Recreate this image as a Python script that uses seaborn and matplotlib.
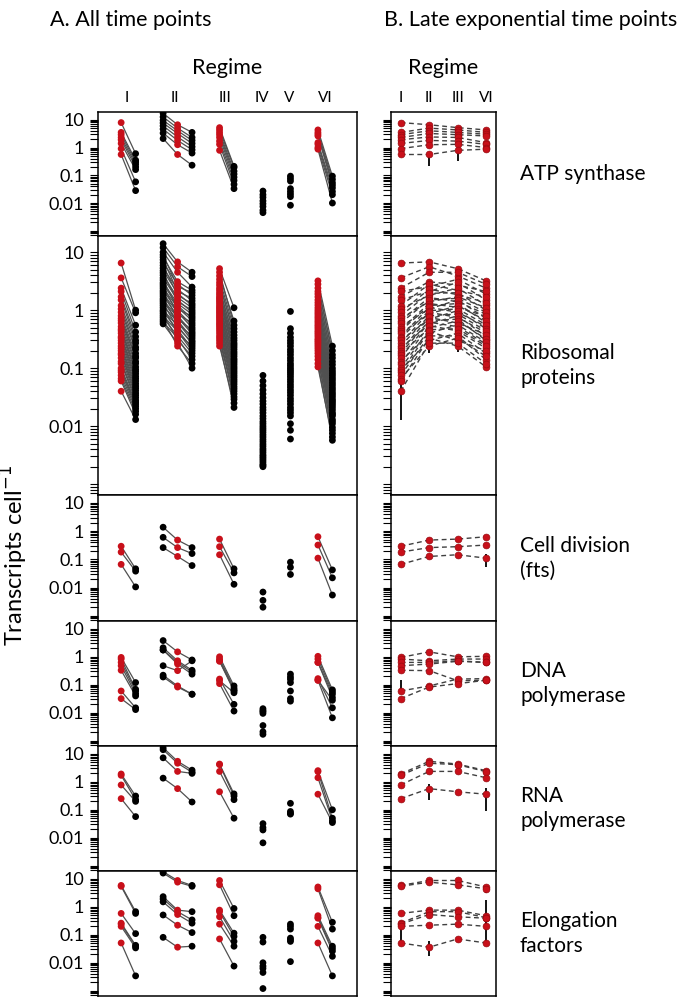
import numpy as np
import pandas as pd
import matplotlib
matplotlib.use("Agg")
import matplotlib.pyplot as plt
import seaborn as sns
from matplotlib.ticker import FixedLocator, FixedFormatter, LogLocator, NullFormatter

# %%
# columns of panel A, left to right. _r = late exponential (red), _b = other time points (black)
a_columns = ["I_r", "I_b", "II_b1", "II_r", "II_b2", "III_r", "III_b", "IV_b", "V_b", "VI_r", "VI_b"]
regimes_a = ["I", "II", "III", "IV", "V", "VI"]
regimes_b = ["I", "II", "III", "VI"]
group_labels = ["ATP synthase", "Ribosomal\nproteins", "Cell division\n(fts)",
                "DNA\npolymerase", "RNA\npolymerase", "Elongation\nfactors"]

# transcripts per cell, one list per column, genes in the same order in every column
atp = {
    "I_r":   [7.9, 3.5, 2.9, 2.3, 1.9, 1.4, 0.91, 0.56],
    "I_b":   [0.60, 0.35, 0.30, 0.25, 0.20, 0.16, 0.058, 0.028],
    "II_b1": [17, 12.6, 9.5, 7.6, 6.0, 4.6, 3.3, 2.1],
    "II_r":  [6.6, 5.0, 4.0, 3.2, 2.4, 1.8, 1.26, 0.56],
    "II_b2": [3.5, 2.3, 1.8, 1.4, 1.07, 0.83, 0.63, 0.23],
    "III_r": [5.2, 4.3, 3.5, 2.9, 2.3, 1.7, 1.3, 0.79],
    "III_b": [0.21, 0.19, 0.14, 0.11, 0.085, 0.065, 0.047, 0.033],
    "IV_b":  [0.027, 0.020, 0.016, 0.012, 0.0095, 0.0075, 0.0055, 0.0045],
    "V_b":   [0.093, 0.076, 0.062, 0.033, 0.026, 0.021, 0.017, 0.0083],
    "VI_r":  [4.3, 3.5, 3.0, 2.6, 1.5, 1.3, 1.0, 0.87],
    "VI_b":  [0.093, 0.071, 0.054, 0.044, 0.035, 0.026, 0.020, 0.010],
}

ribo = {
    "I_r":   [6.5, 3.6, 2.4, 2.1, 1.7, 1.5, 1.2, 1.05, 0.92, 0.80, 0.72, 0.66, 0.60, 0.52, 0.47, 0.44, 0.40, 0.35,
              0.33, 0.30, 0.27, 0.24, 0.22, 0.20, 0.18, 0.17, 0.15, 0.13, 0.12, 0.10, 0.092, 0.085, 0.075, 0.066, 0.060, 0.040],
    "I_b":   [1.0, 0.9, 0.55, 0.42, 0.35, 0.30, 0.27, 0.23, 0.21, 0.18, 0.16, 0.15, 0.13, 0.12, 0.105, 0.095, 0.088, 0.080,
              0.072, 0.066, 0.060, 0.054, 0.049, 0.045, 0.041, 0.037, 0.034, 0.031, 0.028, 0.026, 0.024, 0.022, 0.020, 0.018, 0.016, 0.013],
    "II_b1": [14, 12, 10, 9.0, 8.2, 7.4, 6.6, 5.9, 5.3, 4.8, 4.4, 4.0, 3.6, 3.3, 3.0, 2.8, 2.6, 2.4,
              2.2, 2.05, 1.9, 1.75, 1.6, 1.5, 1.4, 1.3, 1.2, 1.1, 1.0, 0.94, 0.87, 0.80, 0.74, 0.68, 0.63, 0.58],
    "II_r":  [6.8, 5.6, 4.5, 2.55, 3.1, 2.1, 2.8, 1.8, 2.3, 1.95, 1.4, 1.65, 1.5, 1.05, 1.3, 1.2, 0.86, 1.12,
              0.98, 0.70, 0.92, 0.80, 0.58, 0.75, 0.66, 0.50, 0.62, 0.40, 0.54, 0.46, 0.30, 0.43, 0.36, 0.24, 0.33, 0.27],
    "II_b2": [4.5, 3.8, 2.5, 2.0, 2.2, 1.6, 1.8, 1.3, 1.45, 1.2, 1.0, 1.1, 0.92, 0.78, 0.85, 0.72, 0.60, 0.66,
              0.55, 0.46, 0.50, 0.42, 0.36, 0.39, 0.33, 0.28, 0.30, 0.24, 0.26, 0.22, 0.16, 0.20, 0.18, 0.12, 0.14, 0.10],
    "III_r": [5.2, 3.9, 4.5, 3.4, 2.7, 3.0, 2.2, 2.4, 1.85, 2.0, 1.7, 1.4, 1.6, 1.5, 1.12, 1.3, 1.2, 0.92,
              1.05, 0.98, 0.75, 0.86, 0.80, 0.60, 0.70, 0.65, 0.52, 0.56, 0.44, 0.48, 0.40, 0.30, 0.36, 0.33, 0.24, 0.27],
    "III_b": [1.1, 0.65, 0.55, 0.48, 0.42, 0.37, 0.33, 0.30, 0.27, 0.25, 0.23, 0.21, 0.19, 0.175, 0.16, 0.145, 0.135, 0.125,
              0.115, 0.105, 0.097, 0.089, 0.082, 0.075, 0.069, 0.063, 0.058, 0.053, 0.048, 0.044, 0.040, 0.036, 0.032, 0.029, 0.025, 0.021],
    "IV_b":  [0.075, 0.060, 0.050, 0.042, 0.036, 0.031, 0.027, 0.024, 0.021, 0.019, 0.017, 0.015, 0.0135, 0.012, 0.011, 0.010, 0.0092, 0.0085,
              0.0078, 0.0071, 0.0065, 0.0059, 0.0054, 0.0049, 0.0045, 0.0041, 0.0038, 0.0035, 0.0032, 0.0030, 0.0028, 0.0026, 0.0024, 0.0022, 0.0021, 0.0020],
    "V_b":   [0.95, 0.48, 0.40, 0.34, 0.30, 0.27, 0.24, 0.21, 0.19, 0.17, 0.15, 0.135, 0.12, 0.11, 0.10, 0.092, 0.085, 0.078,
              0.071, 0.064, 0.058, 0.052, 0.047, 0.042, 0.038, 0.034, 0.030, 0.027, 0.024, 0.021, 0.019, 0.017, 0.015, 0.011, 0.0085, 0.0060],
    "VI_r":  [3.2, 2.4, 2.8, 1.9, 2.1, 1.5, 1.7, 1.22, 1.35, 1.0, 1.1, 0.85, 0.92, 0.72, 0.78, 0.61, 0.66, 0.52,
              0.56, 0.48, 0.41, 0.44, 0.35, 0.38, 0.30, 0.32, 0.26, 0.28, 0.22, 0.24, 0.18, 0.20, 0.14, 0.16, 0.105, 0.12],
    "VI_b":  [0.24, 0.20, 0.17, 0.15, 0.13, 0.115, 0.10, 0.09, 0.082, 0.075, 0.068, 0.062, 0.056, 0.051, 0.046, 0.042, 0.038, 0.035,
              0.032, 0.029, 0.027, 0.025, 0.023, 0.021, 0.019, 0.017, 0.016, 0.015, 0.013, 0.012, 0.011, 0.0095, 0.0085, 0.0075, 0.0065, 0.0057],
}

fts = {
    "I_r":   [0.29, 0.18, 0.066],
    "I_b":   [0.046, 0.038, 0.0105],
    "II_b1": [1.37, 0.60, 0.26],
    "II_r":  [0.48, 0.26, 0.126],
    "II_b2": [0.26, 0.16, 0.060],
    "III_r": [0.52, 0.28, 0.145],
    "III_b": [0.046, 0.033, 0.013],
    "IV_b":  [0.0069, 0.0035, 0.0020],
    "V_b":   [0.079, 0.052, 0.029],
    "VI_r":  [0.63, 0.32, 0.11],
    "VI_b":  [0.042, 0.022, 0.0054],
}

dnapol = {
    "I_r":   [0.95, 0.83, 0.63, 0.48, 0.33, 0.060, 0.032],
    "I_b":   [0.12, 0.069, 0.060, 0.048, 0.040, 0.015, 0.013],
    "II_b1": [3.8, 2.1, 1.75, 1.75, 0.48, 0.22, 0.19],
    "II_r":  [1.5, 0.72, 0.63, 0.55, 0.32, 0.091, 0.083],
    "II_b2": [0.77, 0.33, 0.29, 0.24, 0.72, 0.046, 0.046],
    "III_r": [1.0, 0.83, 0.72, 0.69, 0.14, 0.16, 0.11],
    "III_b": [0.091, 0.075, 0.065, 0.060, 0.052, 0.020, 0.0115],
    "IV_b":  [0.014, 0.012, 0.011, 0.0095, 0.0035, 0.0021, 0.0017],
    "V_b":   [0.24, 0.19, 0.158, 0.12, 0.060, 0.032, 0.026],
    "VI_r":  [1.04, 0.83, 0.63, 0.63, 0.145, 0.166, 0.145],
    "VI_b":  [0.066, 0.055, 0.046, 0.035, 0.028, 0.015, 0.0066],
}

rnapol = {
    "I_r":   [1.9, 1.7, 0.77, 0.25],
    "I_b":   [0.31, 0.23, 0.20, 0.057],
    "II_b1": [16.5, 14, 7.2, 1.35],
    "II_r":  [5.4, 4.6, 2.35, 0.57],
    "II_b2": [2.6, 2.2, 2.0, 0.19],
    "III_r": [4.3, 4.1, 2.35, 0.44],
    "III_b": [0.37, 0.31, 0.23, 0.050],
    "IV_b":  [0.032, 0.023, 0.019, 0.0066],
    "V_b":   [0.17, 0.087, 0.075, 0.070],
    "VI_r":  [2.5, 2.3, 1.4, 0.36],
    "VI_b":  [0.10, 0.050, 0.040, 0.035],
}

elong = {
    "I_r":   [5.8, 5.4, 0.58, 0.26, 0.24, 0.20, 0.051],
    "I_b":   [0.67, 0.58, 0.11, 0.042, 0.039, 0.034, 0.0034],
    "II_b1": [18, 16, 2.3, 1.9, 1.5, 0.51, 0.081],
    "II_r":  [8.7, 7.6, 0.76, 0.67, 0.53, 0.22, 0.036],
    "II_b2": [5.8, 5.4, 0.67, 0.34, 0.26, 0.12, 0.039],
    "III_r": [8.7, 6.1, 0.76, 0.67, 0.44, 0.24, 0.071],
    "III_b": [0.87, 0.48, 0.114, 0.087, 0.058, 0.039, 0.0076],
    "IV_b":  [0.081, 0.055, 0.010, 0.0076, 0.0063, 0.0045, 0.0012],
    "V_b":   [0.24, 0.20, 0.16, 0.076, 0.066, 0.058, 0.011],
    "VI_r":  [5.1, 4.4, 0.48, 0.41, 0.39, 0.20, 0.051],
    "VI_b":  [0.28, 0.16, 0.039, 0.032, 0.026, 0.017, 0.0034],
}

# error bars of panel B: (regime, gene index, low, high)
atp_err = [("II", 7, 0.21, 0.6), ("III", 7, 0.32, 0.9)]
ribo_err = [("I", 35, 0.0126, 0.2), ("II", 33, 0.18, 0.35), ("III", 35, 0.19, 0.35)]
fts_err = [("VI", 2, 0.052, 0.16)]
dnapol_err = [("I", 5, 0.06, 0.145), ("I", 3, 0.30, 0.55)]
rnapol_err = [("II", 3, 0.23, 0.85), ("VI", 3, 0.087, 0.62)]
elong_err = [("I", 4, 0.051, 0.26), ("II", 6, 0.017, 0.058), ("VI", 5, 0.05, 1.7), ("VI", 0, 3.0, 6.0)]

groups = [atp, ribo, fts, dnapol, rnapol, elong]
errors = [atp_err, ribo_err, fts_err, dnapol_err, rnapol_err, elong_err]

# %%
# layout
a_xpos = [1.6, 2.6, 4.5, 5.5, 6.5, 8.4, 9.4, 11.4, 13.3, 15.2, 16.2]
a_tickpos = [2.0, 5.3, 8.8, 11.3, 13.2, 15.7]
b_xpos = {"I": 0, "II": 1, "III": 2, "VI": 3}

RED = "#c8101a"
DARKRED = "#9a0a10"

sns.set_theme(style="ticks", rc={"axes.edgecolor": "black", "axes.linewidth": 1.1,
                                 "xtick.color": "black", "ytick.color": "black",
                                 "text.color": "black", "axes.labelcolor": "black"})
plt.rcParams["font.family"] = ["Lato", "DejaVu Sans"]

W, H = 680.0, 998.0
fig = plt.figure(figsize=(W / 100, H / 100), dpi=100)
heights = [124, 259, 126, 125, 125, 125]
gsA = fig.add_gridspec(6, 1, left=98 / W, right=357 / W, top=1 - 112 / H, bottom=1 - 996 / H,
                       hspace=0, height_ratios=heights)
gsB = fig.add_gridspec(6, 1, left=391 / W, right=496 / W, top=1 - 112 / H, bottom=1 - 996 / H,
                       hspace=0, height_ratios=heights)


def style_y(ax, labels):
    ax.set_yscale("log")
    ax.set_ylim(6.5e-4, 19)
    ax.yaxis.set_major_locator(FixedLocator([10, 1, 0.1, 0.01, 0.001]))
    if labels:
        ax.yaxis.set_major_formatter(FixedFormatter(["10", "1", "0.1", "0.01", ""]))
    else:
        ax.yaxis.set_major_formatter(NullFormatter())
    ax.yaxis.set_minor_locator(LogLocator(base=10, subs=np.arange(2, 10), numticks=20))
    ax.yaxis.set_minor_formatter(NullFormatter())
    ax.tick_params(axis="y", which="both", direction="out", length=6, width=0.8,
                   labelsize=13, pad=4)
    ax.set_xlabel("")
    ax.set_ylabel("")


for i, (d, errs) in enumerate(zip(groups, errors)):
    rows = []
    for col, x in zip(a_columns, a_xpos):
        regime = col.split("_")[0]
        for k, v in enumerate(d[col]):
            rows.append({"col": col, "regime": regime, "x": x, "gene": k, "value": v,
                         "late": col.endswith("_r"), "unit": f"{regime}_{k}"})
    df = pd.DataFrame(rows)

    # panel A
    axA = fig.add_subplot(gsA[i])
    linked = df[df["regime"].isin(regimes_b)]
    sns.lineplot(data=linked, x="x", y="value", units="unit", estimator=None, color="#505050",
                 lw=0.9, ax=axA, legend=False, zorder=1)
    sns.scatterplot(data=df, x="x", y="value", hue="late", palette={True: RED, False: "black"},
                    s=24, linewidth=0, legend=False, ax=axA, zorder=3)
    axA.set_xlim(0, 17.9)
    style_y(axA, True)
    if i == 0:
        axA.xaxis.set_ticks_position("top")
        axA.set_xticks(a_tickpos)
        axA.set_xticklabels(regimes_a)
        axA.tick_params(axis="x", length=0, pad=5, labelsize=11)
    else:
        axA.set_xticks([])

    # panel B
    axB = fig.add_subplot(gsB[i])
    late = df[df["late"]].copy()
    late["bx"] = late["regime"].map(b_xpos)
    sns.lineplot(data=late, x="bx", y="value", units="gene", estimator=None, color="#404040",
                 lw=1.0, linestyle=(0, (3.5, 2.5)), ax=axB, legend=False, zorder=1)
    for reg, k, lo, hi in errs:
        axB.vlines(b_xpos[reg], lo, hi, color="black", lw=1.3, zorder=2)
    sns.scatterplot(data=late, x="bx", y="value", color=RED, edgecolor=DARKRED, linewidth=0.5,
                    s=24, legend=False, ax=axB, zorder=3)
    axB.set_xlim(-0.34, 3.35)
    style_y(axB, False)
    if i == 0:
        axB.xaxis.set_ticks_position("top")
        axB.set_xticks(list(b_xpos.values()))
        axB.set_xticklabels(regimes_b)
        axB.tick_params(axis="x", length=0, pad=5, labelsize=11)
    else:
        axB.set_xticks([])

    # row label
    top = 112 + sum(heights[:i])
    center = top + heights[i] / 2
    fig.text(520 / W, 1 - center / H, group_labels[i], ha="left", va="center",
             fontsize=15, linespacing=1.3)

# titles
fig.text(50 / W, 1 - 20 / H, "A. All time points", ha="left", va="center", fontsize=15.5)
fig.text(384 / W, 1 - 20 / H, "B. Late exponential time points", ha="left", va="center", fontsize=15.5)
fig.text(227 / W, 1 - 68 / H, "Regime", ha="center", va="center", fontsize=15.5)
fig.text(443 / W, 1 - 68 / H, "Regime", ha="center", va="center", fontsize=15.5)
fig.text(14 / W, 1 - 555 / H, "Transcripts cell$^{-1}$", ha="center", va="center",
         rotation=90, fontsize=17)

plt.savefig("out.png", dpi=100)
